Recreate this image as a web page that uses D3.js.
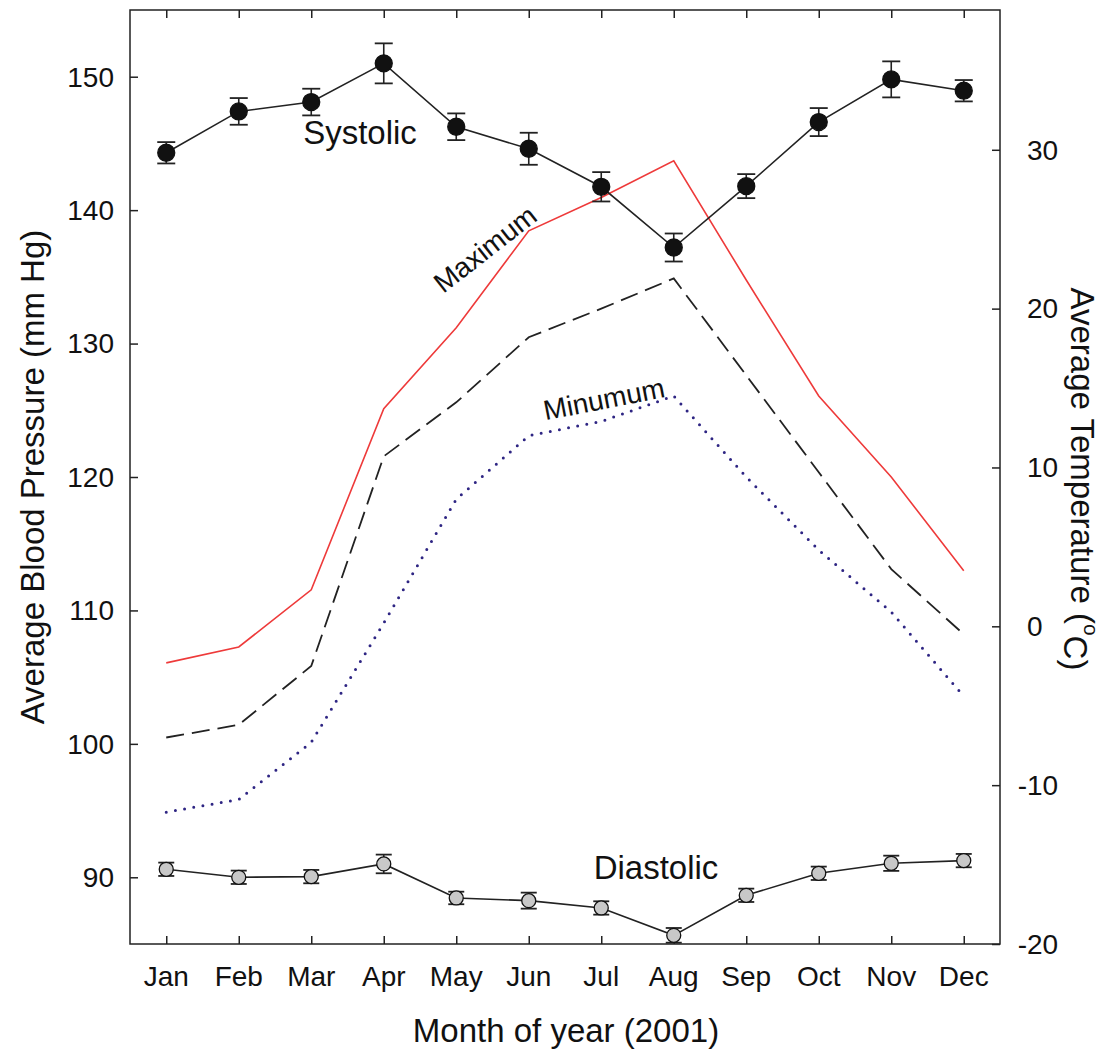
<!DOCTYPE html>
<html><head><meta charset="utf-8">
<script src="https://cdn.jsdelivr.net/npm/d3@7"></script>
<style>body{margin:0;background:#fff}svg text{font-family:"Liberation Sans",Arial,sans-serif;fill:#111}</style>
</head><body><svg id="c" width="1107" height="1050"></svg>
<script>
const months = ["Jan","Feb","Mar","Apr","May","Jun","Jul","Aug","Sep","Oct","Nov","Dec"];
const systolic = [144.3,147.4,148.1,151.0,146.25,144.6,141.75,137.2,141.8,146.6,149.8,148.95];
const systolicErr = [0.8,1.0,1.0,1.5,1.0,1.2,1.1,1.05,0.9,1.05,1.35,0.8];
const diastolic = [90.6,90.0,90.05,91.0,88.45,88.25,87.7,85.65,88.65,90.3,91.05,91.25];
const diastolicErr = [0.5,0.5,0.5,0.7,0.47,0.6,0.5,0.55,0.5,0.5,0.57,0.5];
const tempMax = [-2.3,-1.3,2.3,13.7,18.8,24.9,27.0,29.3,21.8,14.5,9.4,3.5];
const tempMean = [-7.0,-6.2,-2.5,10.7,14.1,18.2,20.0,21.9,15.8,9.7,3.6,-0.5];
const tempMin = [-11.7,-10.9,-7.3,0.2,8.0,12.0,12.9,14.5,9.4,4.8,0.9,-4.4];
const bpTicks = [90,100,110,120,130,140,150];
const tempTicks = [-20,-10,0,10,20,30];

const svg = d3.select("#c");
const L=130, R=1000, T=10, B=944;
const x = d3.scaleLinear().domain([0.5,12.5]).range([L,R]);
const yL = d3.scaleLinear().domain([85,155]).range([B,T]);
const yR = d3.scaleLinear().domain([-20,38.8]).range([B,T]);
const idx = months.map((m,i)=>i+1);

// axes
const fs = 28;
const axL = svg.append("g").attr("transform",`translate(${L},0)`)
  .call(d3.axisRight(yL).tickValues(bpTicks).tickSize(8).tickFormat(""));
bpTicks.forEach(t=>svg.append("text").attr("x",L-16).attr("y",yL(t)).attr("dy","0.35em").attr("text-anchor","end").attr("font-size",fs).text(t));
const axR = svg.append("g").attr("transform",`translate(${R},0)`)
  .call(d3.axisLeft(yR).tickValues(tempTicks).tickSize(8).tickFormat(""));
tempTicks.forEach(t=>svg.append("text").attr("x",R+27-(t<0?9.3:0)).attr("y",yR(t)).attr("dy","0.35em").attr("text-anchor","start").attr("font-size",fs).text(t));
const axB = svg.append("g").attr("transform",`translate(0,${B})`)
  .call(d3.axisTop(x).tickValues(idx).tickSize(8).tickFormat(""));
months.forEach((m,i)=>svg.append("text").attr("x",x(i+1)).attr("y",B+32).attr("dy","0.35em").attr("text-anchor","middle").attr("font-size",fs).text(m));
const axT = svg.append("g").attr("transform",`translate(0,${T})`)
  .call(d3.axisBottom(x).tickValues(idx).tickSize(8).tickFormat(""));
[axL,axR,axB,axT].forEach(g=>{g.select(".domain").remove();g.selectAll("line").attr("stroke","#222").attr("stroke-width",1.5);});
svg.append("rect").attr("x",L).attr("y",T).attr("width",R-L).attr("height",B-T).attr("fill","none").attr("stroke","#222").attr("stroke-width",1.5);

// temperature lines
const lineT = d3.line().x((d,i)=>x(i+1)).y(d=>yR(d));
svg.append("path").datum(tempMax).attr("d",lineT).attr("fill","none").attr("stroke","#ee3a3a").attr("stroke-width",1.6);
svg.append("path").datum(tempMean).attr("d",lineT).attr("fill","none").attr("stroke","#222").attr("stroke-width",1.8).attr("stroke-dasharray","18,8");
svg.append("path").datum(tempMin).attr("d",lineT).attr("fill","none").attr("stroke","#2e2583").attr("stroke-width",3).attr("stroke-linecap","round").attr("stroke-dasharray","0,9.3");

// blood pressure series
function bpSeries(vals, errs, fill, r, cap){
  const line = d3.line().x((d,i)=>x(i+1)).y(d=>yL(d));
  svg.append("path").datum(vals).attr("d",line).attr("fill","none").attr("stroke","#222").attr("stroke-width",1.6);
  const g = svg.append("g");
  vals.forEach((v,i)=>{
    const cx=x(i+1), e=errs[i];
    g.append("line").attr("x1",cx).attr("x2",cx).attr("y1",yL(v+e)).attr("y2",yL(v-e)).attr("stroke","#222").attr("stroke-width",1.6);
    [v+e,v-e].forEach(w=>g.append("line").attr("x1",cx-cap).attr("x2",cx+cap).attr("y1",yL(w)).attr("y2",yL(w)).attr("stroke","#222").attr("stroke-width",1.8));
    g.append("circle").attr("cx",cx).attr("cy",yL(v)).attr("r",r).attr("fill",fill).attr("stroke","#111").attr("stroke-width",1.3);
  });
}
bpSeries(systolic, systolicErr, "#111", 8.5, 9);
bpSeries(diastolic, diastolicErr, "#c8c8c8", 7, 8);

// annotations
svg.append("text").attr("x",360).attr("y",132).attr("dy","0.35em").attr("text-anchor","middle").attr("font-size",33).text("Systolic");
svg.append("text").attr("x",656).attr("y",867).attr("dy","0.35em").attr("text-anchor","middle").attr("font-size",33).text("Diastolic");
svg.append("text").attr("transform","translate(485,249) rotate(-38)").attr("dy","0.35em").attr("text-anchor","middle").attr("font-size",28).text("Maximum");
svg.append("text").attr("transform","translate(604,399) rotate(-11)").attr("dy","0.35em").attr("text-anchor","middle").attr("font-size",28).text("Minumum");

// axis titles
svg.append("text").attr("transform",`translate(32,${(T+B)/2}) rotate(-90)`).attr("dy","0.35em").attr("text-anchor","middle").attr("font-size",33).text("Average Blood Pressure (mm Hg)");
svg.append("text").attr("x",566).attr("y",1030).attr("dy","0.35em").attr("text-anchor","middle").attr("font-size",33).text("Month of year (2001)");
const rt = svg.append("text").attr("transform",`translate(1083,479) rotate(90)`).attr("dy","0.35em").attr("text-anchor","middle").attr("font-size",33);
rt.append("tspan").text("Average Temperature (");
rt.append("tspan").attr("font-size",21).attr("dy","-0.6em").text("o");
rt.append("tspan").attr("dy","0.6em").text("C)");
</script></body></html>
